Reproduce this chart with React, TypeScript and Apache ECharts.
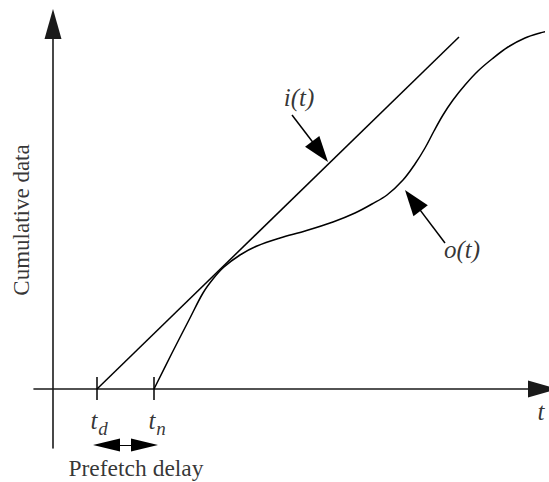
import { useEffect, useRef } from "react";
import * as echarts from "echarts";

// Axis extents (time t on x, cumulative data on y)
const X_RANGE = [-1.9, 49.0];
const Y_RANGE = [-5.9, 36.5];

// i(t): input, straight line starting at t_d
const inputT = [4.4, 40.6];
const inputCum = [0, 35.2];

// o(t): output curve starting at t_n
const outputT = [
  10.1, 11.9, 13.7, 15.0, 16.0, 17.1, 18.7, 20.4, 22.7, 25.2, 28.0, 30.2, 31.9,
  33.4, 35.0, 36.2, 37.2, 38.1, 39.0, 40.0, 41.2, 42.5, 43.9, 45.5, 47.2, 48.7, 49.6,
];
const outputCum = [
  0, 3.6, 7.1, 9.6, 11.0, 12.2, 13.4, 14.3, 15.1, 15.8, 16.7, 17.6, 18.5, 19.4,
  20.9, 22.5, 24.1, 25.8, 27.4, 28.9, 30.4, 31.8, 33.0, 34.2, 35.1, 35.6, 35.8,
];

// tick marks at t_d and t_n
const tickT = [4.4, 10.1];
const tickSpan = [-1.1, 1.2];

// pointer arrows: [fromT, fromCum, toT, toCum]
const pointerArrows = [
  [23.9, 27.4, 26.71, 23.73], // to i(t)
  [39.2, 14.6, 35.98, 18.86], // to o(t)
];
// prefetch delay double arrow
const delayArrow = [5.35, -5.6, 9.15, -5.6];

// text labels
const labelTexts = ["i(t)", "o(t)", "t", "t", "d", "t", "n", "Prefetch delay", "Cumulative data"];
const labelKinds = ["main", "main", "main", "main", "sub", "main", "sub", "plain", "yname"];
const labelT = [24.6, 40.9, 48.8, 4.1, 5.0, 9.9, 10.8, 8.3, -3.2];
const labelCum = [29.2, 14.0, -2.2, -3.1, -3.9, -3.1, -3.9, -7.9, 16.9];

const SERIF = "Liberation Serif, Times New Roman, Times, serif";

const kindStyle: Record<string, any> = {
  main: { fontStyle: "italic", fontSize: 25, rotate: 0 },
  sub: { fontStyle: "italic", fontSize: 19, rotate: 0 },
  plain: { fontStyle: "normal", fontSize: 23.5, rotate: 0 },
  yname: { fontStyle: "normal", fontSize: 23, rotate: 90 },
};

export default function App() {
  const ref = useRef<HTMLDivElement>(null);
  useEffect(() => {
    if (!ref.current) return;
    const chart = echarts.init(ref.current, null, { renderer: "svg" });
    const black = "#000";
    const axisCommon = {
      type: "value",
      axisLabel: { show: false },
      axisTick: { show: false },
      splitLine: { show: false },
      axisLine: {
        show: true,
        onZero: true,
        symbol: ["none", "triangle"],
        symbolSize: [17, 30],
        lineStyle: { color: "#1a1a1a", width: 1.6 },
      },
    };
    const lineBase = {
      symbol: "none",
      showSymbol: false,
      clip: false,
      silent: true,
      animation: false,
    };
    const markBase = {
      silent: true,
      animation: false,
      label: { show: false },
      emphasis: { disabled: true },
    };
    const option: any = {
      animation: false,
      grid: { left: 34, right: 6, top: 24, bottom: 34 },
      xAxis: { ...axisCommon, min: X_RANGE[0], max: X_RANGE[1] },
      yAxis: { ...axisCommon, min: Y_RANGE[0], max: Y_RANGE[1] },
      series: [
        {
          ...lineBase,
          type: "line",
          name: "i(t)",
          data: inputT.map((t, i) => [t, inputCum[i]]),
          lineStyle: { color: black, width: 1.5 },
          markLine: {
            ...markBase,
            symbol: "none",
            lineStyle: { color: black, width: 1.5, type: "solid" },
            data: tickT.map((t) => [{ coord: [t, tickSpan[0]] }, { coord: [t, tickSpan[1]] }]),
          },
        },
        {
          ...lineBase,
          type: "line",
          name: "o(t)",
          smooth: 0.35,
          data: outputT.map((t, i) => [t, outputCum[i]]),
          lineStyle: { color: black, width: 1.5 },
          markLine: {
            ...markBase,
            symbol: ["none", "triangle"],
            symbolSize: [18, 26],
            lineStyle: { color: black, width: 1.5, type: "solid" },
            data: pointerArrows.map((a) => [{ coord: [a[0], a[1]] }, { coord: [a[2], a[3]] }]),
          },
        },
        {
          ...lineBase,
          type: "line",
          name: "delay",
          data: [],
          markLine: {
            ...markBase,
            symbol: ["triangle", "triangle"],
            symbolSize: [13, 27],
            lineStyle: { color: black, width: 1.2, type: "solid" },
            data: [[{ coord: [delayArrow[0], delayArrow[1]] }, { coord: [delayArrow[2], delayArrow[3]] }]],
          },
        },
        {
          type: "scatter",
          name: "labels",
          silent: true,
          clip: false,
          symbolSize: 0,
          data: labelTexts.map((txt, i) => {
            const k = kindStyle[labelKinds[i]];
            return {
              value: [labelT[i], labelCum[i]],
              label: {
                show: true,
                position: "inside",
                formatter: txt,
                color: black,
                fontFamily: SERIF,
                fontStyle: k.fontStyle,
                fontSize: k.fontSize,
                rotate: k.rotate,
                align: "center",
                verticalAlign: "middle",
              },
            };
          }),
        },
      ],
    };
    chart.setOption(option);
    return () => chart.dispose();
  }, []);
  return (
    <div
      ref={ref}
      style={{ position: "fixed", left: 0, top: 0, width: 549, height: 482, background: "#fff" }}
    />
  );
}
